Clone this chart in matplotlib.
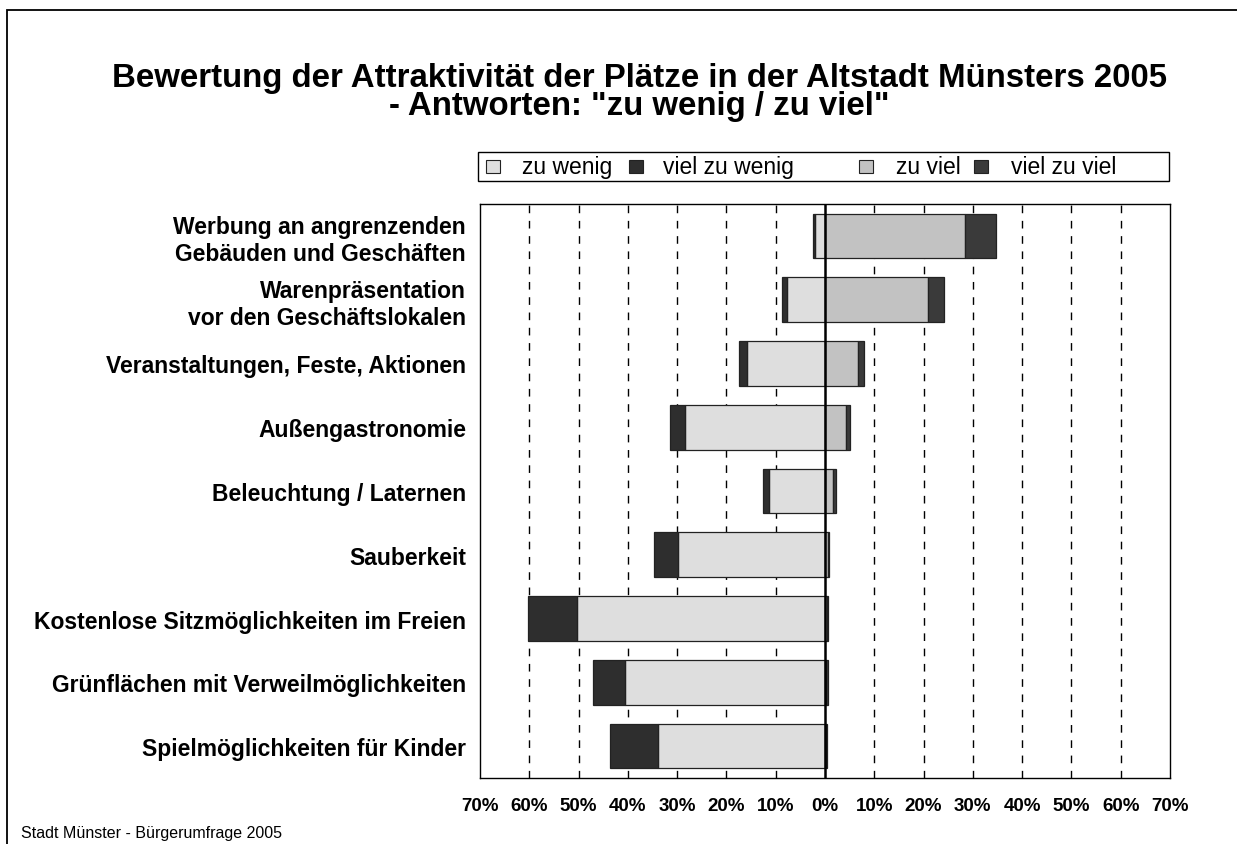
import numpy as np
import matplotlib
matplotlib.use("Agg")
import matplotlib.pyplot as plt
from matplotlib.patches import Rectangle

plt.rcParams['font.family'] = ['Liberation Sans', 'DejaVu Sans']

categories = [
    "Werbung an angrenzenden\nGebäuden und Geschäften",
    "Warenpräsentation\nvor den Geschäftslokalen",
    "Veranstaltungen, Feste, Aktionen",
    "Außengastronomie",
    "Beleuchtung / Laternen",
    "Sauberkeit",
    "Kostenlose Sitzmöglichkeiten im Freien",
    "Grünflächen mit Verweilmöglichkeiten",
    "Spielmöglichkeiten für Kinder",
]
zu_wenig      = [2.1, 7.8, 15.9, 28.4, 11.4, 29.9, 50.3, 40.6, 33.8]
viel_zu_wenig = [0.3, 1.0, 1.5, 3.0, 1.2, 4.8, 9.9, 6.5, 9.8]
zu_viel       = [28.4, 20.8, 6.6, 4.2, 1.7, 0.7, 0.4, 0.2, 0.2]
viel_zu_viel  = [6.2, 3.4, 1.3, 0.9, 0.5, 0.2, 0.2, 0.4, 0.3]
series_labels = ["zu wenig", "viel zu wenig", "zu viel", "viel zu viel"]
tick_values = [-70, -60, -50, -40, -30, -20, -10, 0, 10, 20, 30, 40, 50, 60, 70]
title_lines = ["Bewertung der Attraktivität der Plätze in der Altstadt Münsters 2005",
               '- Antworten: "zu wenig / zu viel"']
footer = "Stadt Münster - Bürgerumfrage 2005"

colors = ["#dedede", "#2e2e2e", "#c2c2c2", "#3a3a3a"]
edge = "#222222"

W, H = 1237, 845
fig = plt.figure(figsize=(W / 100, H / 100), dpi=100)

def fx(px):
    return px / W

def fy(py):
    return 1 - py / H

ax = fig.add_axes([fx(480), fy(779), fx(1170) - fx(480), fy(205) - fy(779)])

n = len(categories)
y = np.arange(n)
zw = np.array(zu_wenig)
vzw = np.array(viel_zu_wenig)
zv = np.array(zu_viel)
vzv = np.array(viel_zu_viel)
h = 0.7
ax.barh(y, -zw, left=0, height=h, color=colors[0], edgecolor=edge, linewidth=0.9, zorder=3)
ax.barh(y, -vzw, left=-zw, height=h, color=colors[1], edgecolor=edge, linewidth=0.9, zorder=3)
ax.barh(y, zv, left=0, height=h, color=colors[2], edgecolor=edge, linewidth=0.9, zorder=3)
ax.barh(y, vzv, left=zv, height=h, color=colors[3], edgecolor=edge, linewidth=0.9, zorder=3)

ax.set_xlim(-70, 70)
ax.set_ylim(n - 0.5, -0.5)
for t in tick_values:
    if t not in (0, -70, 70):
        ax.axvline(t, color="black", lw=1.0, dashes=(5.5, 5.5), zorder=1)
ax.axvline(0, color="black", lw=1.8, zorder=4)

ax.set_xticks(tick_values)
ax.set_xticklabels([f"{abs(t)}%" for t in tick_values], fontsize=13.5, fontweight="bold")
ax.set_yticks(y)
ax.set_yticklabels(categories, fontsize=16.5, fontweight="bold", multialignment="right")
ax.tick_params(axis="both", length=0)
ax.tick_params(axis="y", pad=10)
ax.tick_params(axis="x", pad=14)
for s in ax.spines.values():
    s.set_linewidth(1.0)
    s.set_color("black")

# Title
fig.text(fx(639), fy(78), title_lines[0], ha="center", va="center", fontsize=23.8, fontweight="bold")
fig.text(fx(639), fy(107), title_lines[1], ha="center", va="center", fontsize=23.8, fontweight="bold")

# Legend box
fig.patches.append(Rectangle((fx(478), fy(182)), fx(1169) - fx(478), fy(153) - fy(182),
                             transform=fig.transFigure, fill=False, edgecolor="black", lw=1.0))
patch_x = [486, 629, 859, 974]
text_x = [522, 663, 896, 1011]
for lab, c, px, tx in zip(series_labels, colors, patch_x, text_x):
    fig.patches.append(Rectangle((fx(px), fy(174)), fx(14), fy(161) - fy(174),
                                 transform=fig.transFigure, facecolor=c, edgecolor=edge, lw=0.8))
    fig.text(fx(tx), fy(174), lab, ha="left", va="baseline", fontsize=16.5)

# Figure border (left and top visible)
fig.patches.append(Rectangle((fx(7), -0.5), 2, fy(11) + 0.5, transform=fig.transFigure,
                             fill=False, edgecolor="black", lw=1.3, clip_on=False))

fig.text(fx(21), fy(834), footer, ha="left", va="center", fontsize=11.5)

fig.savefig("out.png", dpi=100)
